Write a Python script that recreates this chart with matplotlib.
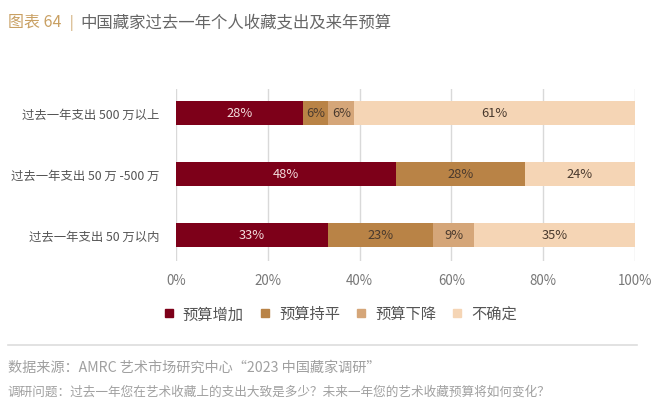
import numpy as np
import matplotlib.pyplot as plt
from matplotlib.lines import Line2D

plt.rcParams['font.family'] = ['Noto Sans CJK SC', 'DejaVu Sans']

categories = ['过去一年支出 500 万以上', '过去一年支出 50 万 -500 万', '过去一年支出 50 万以内']
series_names = ['预算增加', '预算持平', '预算下降', '不确定']
# top row (labels in the picture are rounded)
increase = [27.6, 48, 33]
flat = [5.6, 28, 23]
decrease = [5.6, 0, 9]
unsure = [61.2, 24, 35]
xticks = [0, 20, 40, 60, 80, 100]

colors = ['#7d0019', '#b98346', '#d5a679', '#f5d5b5']
text_colors = ['#f4dede', '#4a3a2e', '#4a3a2e', '#4a3a2e']

fig = plt.figure(figsize=(6.6, 4.1), dpi=100)
ax = fig.add_axes([0.2667, 0.361, 0.6955, 0.419])

y = np.arange(len(categories))
left = np.zeros(len(categories))
for name, vals, c, tc in zip(series_names, [increase, flat, decrease, unsure], colors, text_colors):
    vals = np.array(vals, dtype=float)
    ax.barh(y, vals, left=left, height=0.39, color=c, zorder=2)
    for yi, l, v in zip(y, left, vals):
        if v > 0:
            ax.text(l + v / 2, yi, f'{v:.0f}%', ha='center', va='center',
                    fontsize=9.3, color=tc, zorder=3)
    left = left + vals

ax.set_xlim(0, 100)
ax.set_ylim(2.43, -0.39)
ax.set_yticks(y)
ax.set_yticklabels(categories, fontsize=8.9, color='#555555')
ax.set_xticks(xticks)
ax.set_xticklabels([f'{t}%' for t in xticks], fontsize=9.6, color='#777777')
ax.tick_params(axis='both', length=0)
ax.tick_params(axis='x', pad=9)
ax.tick_params(axis='y', pad=12)
ax.grid(axis='x', color='#d9d9d9', linewidth=1, zorder=0)
for s in ax.spines.values():
    s.set_visible(False)

handles = [Line2D([], [], marker='s', linestyle='none', markersize=6,
                  markerfacecolor=c, markeredgecolor=c) for c in colors]
fig.legend(handles, series_names, loc='center', bbox_to_anchor=(0.515, 0.232),
           ncol=4, frameon=False, fontsize=11, handlelength=0.8, handletextpad=0.5,
           columnspacing=1.0, labelcolor='#555555')

fig.text(0.012, 0.945, '图表 64', fontsize=11.5, color='#c9a063', va='center')
fig.text(0.106, 0.945, '|', fontsize=10, color='#c9a063', va='center')
fig.text(0.122, 0.945, '中国藏家过去一年个人收藏支出及来年预算', fontsize=11.8,
         color='#666666', va='center')

fig.add_artist(Line2D([0.012, 0.965], [0.156, 0.156], color='#dddddd', linewidth=1.2))
fig.text(0.012, 0.102, '数据来源：AMRC 艺术市场研究中心“2023 中国藏家调研”', fontsize=10.2,
         color='#a0a0a0', va='center')
fig.text(0.012, 0.043, '调研问题：过去一年您在艺术收藏上的支出大致是多少？未来一年您的艺术收藏预算将如何变化？',
         fontsize=9.1, color='#a0a0a0', va='center')

fig.savefig('out.png', dpi=100)
